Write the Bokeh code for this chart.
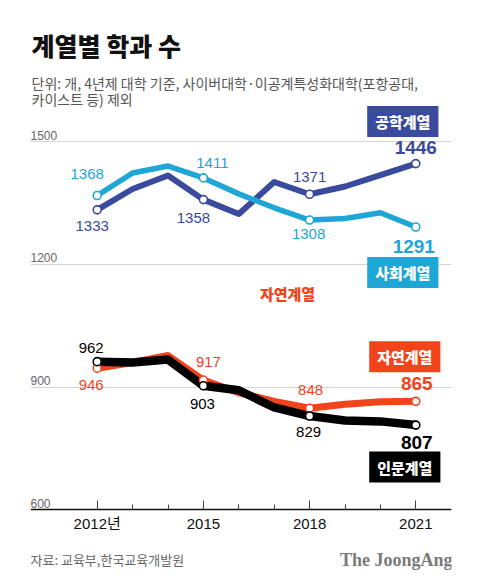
from bokeh.plotting import figure
from bokeh.models import FixedTicker, Label, Range1d
from bokeh.core.properties import value
from bokeh.embed import file_html
from bokeh.resources import INLINE

# ---------------- data ----------------
years = [2012, 2013, 2014, 2015, 2016, 2017, 2018, 2019, 2020, 2021]
engineering = [1333, 1384, 1417, 1358, 1323, 1401, 1371, 1390, 1418, 1446]   # 공학계열
social = [1368, 1423, 1440, 1411, 1372, 1338, 1308, 1312, 1326, 1291]        # 사회계열
natural = [946, 960, 977, 917, 886, 865, 848, 858, 864, 865]                  # 자연계열
humanities = [962, 960, 967, 903, 892, 850, 829, 818, 816, 807]               # 인문계열
marked_years = [2012, 2015, 2018, 2021]
y_ticks = [600, 900, 1200, 1500]
x_tick_overrides = {2012: "2012년"}

series_names = ["공학계열", "사회계열", "자연계열", "인문계열"]
title_text = "계열별 학과 수"
subtitle_lines = ["단위: 개, 4년제 대학 기준, 사이버대학·이공계특성화대학(포항공대,",
                  "카이스트 등) 제외"]
source_text = "자료: 교육부,한국교육개발원"
brand_text = "The JoongAng"

# ---------------- layout ----------------
W, H = 480, 587
LEFT, RIGHT = 30, 29
PX_PER_YEAR = 35.4
PX_PER_UNIT = 0.4092
X_START = 2012 - (96.7 - LEFT) / PX_PER_YEAR
X_END = X_START + (W - LEFT - RIGHT) / PX_PER_YEAR
Y_END = 1500 + 141 / PX_PER_UNIT
Y_START = Y_END - H / PX_PER_UNIT


def dx(px):
    return X_START + (px - LEFT) / PX_PER_YEAR


def dy(py):
    return Y_END - py / PX_PER_UNIT


KR = "Noto Sans CJK KR"
KR_HEAVY = "'Noto Sans CJK KR Black', 'Noto Sans CJK KR'"
NUM = "Liberation Sans"
MIX = "'Liberation Sans', 'Noto Sans CJK KR'"

BLUE = "#3a4a9d"
CYAN = "#1ea6d7"
ORANGE = "#f1441b"
BLACK = "#000000"

p = figure(width=W, height=H, output_backend="svg", toolbar_location=None,
           x_range=Range1d(X_START, X_END), y_range=Range1d(Y_START, Y_END),
           min_border_left=LEFT, min_border_right=RIGHT,
           min_border_top=0, min_border_bottom=0, title=None)
p.outline_line_color = None
p.background_fill_color = "white"
p.border_fill_color = "white"
p.yaxis.visible = False
p.xgrid.visible = False
p.ygrid.ticker = FixedTicker(ticks=y_ticks[1:])
p.ygrid.grid_line_color = "#d4d4d4"
p.ygrid.grid_line_width = 1

ax = p.xaxis[0]
ax.fixed_location = y_ticks[0]
ax.ticker = FixedTicker(ticks=marked_years, minor_ticks=years)
ax.major_label_overrides = x_tick_overrides
ax.axis_line_color = "#111111"
ax.axis_line_width = 1.3
ax.major_tick_in = 9
ax.major_tick_out = 0
ax.minor_tick_in = 5
ax.minor_tick_out = 0
ax.major_tick_line_color = "#444444"
ax.minor_tick_line_color = "#444444"
ax.major_label_text_font = MIX
ax.major_label_text_font_size = "15px"
ax.major_label_text_color = "#111111"
ax.major_label_standoff = 5

# y tick labels (above gridlines, left-aligned)
p.text(x=[X_START] * len(y_ticks), y=y_ticks, text=[str(v) for v in y_ticks],
       text_font=value(NUM), text_font_size="12px", text_color="#666666",
       text_align="left", text_baseline="bottom", y_offset=-2)

# ---------------- series (drawing order: later on top) ----------------
series = [
    (engineering, BLUE, 6),
    (social, CYAN, 5.5),
    (natural, ORANGE, 7),
    (humanities, BLACK, 8.5),
]
for vals, col, lw in series:
    p.line(years, vals, line_color=col, line_width=lw, line_join="round", line_cap="round")

for vals, col, lw in series:
    mx = [y for y in years if y in marked_years]
    mv = [v for y, v in zip(years, vals) if y in marked_years]
    p.scatter(mx, mv, size=8, fill_color="white", line_color=col, line_width=1.6)

# value labels: offsets in screen px (down positive)
label_offsets = {
    "사회계열": [(-10, -22), (9, -15), (-1, 14), (-2, 19)],
    "공학계열": [(-5, 16), (-10, 18), (0, -17), (0, -16)],
    "자연계열": [(-6, 17), (5, -18), (1, -18), (1, -18)],
    "인문계열": [(-6, -14), (-1, 18), (-1, 16), (1, 17)],
}

for name, (vals, col, lw) in zip(series_names, series):
    mx = [y for y in years if y in marked_years]
    mv = [v for y, v in zip(years, vals) if y in marked_years]
    offs = label_offsets[name]
    p.text(x=mx[:-1], y=mv[:-1], text=[str(v) for v in mv[:-1]],
           x_offset=[o[0] for o in offs[:-1]], y_offset=[o[1] for o in offs[:-1]],
           text_font=value(NUM), text_font_size="15px", text_color=col,
           text_align="center", text_baseline="middle")
    p.text(x=[mx[-1]], y=[mv[-1]], text=[str(mv[-1])],
           x_offset=[offs[-1][0]], y_offset=[offs[-1][1]],
           text_font=value(NUM), text_font_size="19px", text_font_style="bold",
           text_color=col, text_align="center", text_baseline="middle")

# legend boxes next to the end values (offsets: screen px, up positive)
box_offsets = {
    "공학계열": (-13, 42),
    "사회계열": (-13, -45.5),
    "자연계열": (-11, 44.6),
    "인문계열": (-11, -42),
}
for name, (vals, col, lw) in zip(series_names, series):
    ox, oy = box_offsets[name]
    p.add_layout(Label(x=years[-1], y=vals[-1], x_offset=ox, y_offset=oy,
                       text=name, text_font=KR_HEAVY, text_font_size="15px",
                       text_font_style="bold", text_color="white",
                       text_align="center", text_baseline="middle",
                       background_fill_color=col, padding=(8, 5)))

# stray orange label in the middle of the chart
p.text(x=[dx(287)], y=[dy(293)], text=["자연계열"], text_font=value(KR_HEAVY),
       text_font_size="15px", text_font_style="bold", text_color=ORANGE,
       text_align="center", text_baseline="middle")

# ---------------- title, subtitle, footer ----------------
p.text(x=[dx(31)], y=[dy(44)], text=[title_text], text_font=value(KR_HEAVY),
       text_font_size="25px", text_font_style="bold", text_color="#111111",
       text_align="left", text_baseline="middle")
p.text(x=[dx(31)] * 2, y=[dy(82), dy(98)], text=subtitle_lines, text_font=value(KR),
       text_font_size="14px", text_color="#555555",
       text_align="left", text_baseline="middle")
p.text(x=[dx(30)], y=[dy(559)], text=[source_text], text_font=value(KR),
       text_font_size="13px", text_color="#666666",
       text_align="left", text_baseline="middle")
p.text(x=[dx(452)], y=[dy(559)], text=[brand_text], text_font=value("Liberation Serif"),
       text_font_size="18px", text_font_style="bold", text_color="#7a7a7a",
       text_align="right", text_baseline="middle")

open("out.html", "w").write(file_html(p, INLINE))
